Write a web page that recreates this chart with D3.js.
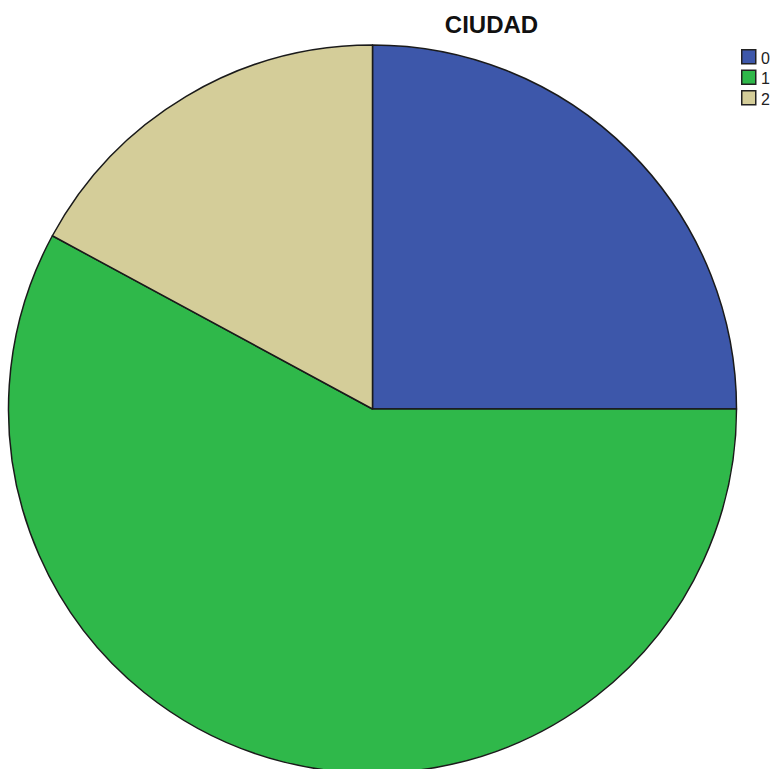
<!DOCTYPE html>
<html>
<head>
<meta charset="utf-8">
<script src="https://cdn.jsdelivr.net/npm/d3@7"></script>
<style>
  html, body { margin: 0; padding: 0; background: #fff; }
  svg { display: block; }
</style>
</head>
<body>
<svg id="chart" width="771" height="769"></svg>
<script>
// Frequency of each CIUDAD code
const categories = ["0", "1", "2"];
const counts = [19, 44, 13];
const colors = ["#3d57aa", "#2fb84a", "#d4cd99"];
const title = "CIUDAD";

const svg = d3.select("#chart");
const cx = 372.5, cy = 409, radius = 364;

const color = d3.scaleOrdinal().domain(categories).range(colors);

const pie = d3.pie().sort(null).value(d => d.count);
const arcs = pie(categories.map((c, i) => ({ cat: c, count: counts[i] })));
const arc = d3.arc().innerRadius(0).outerRadius(radius);

svg.append("g")
  .attr("transform", `translate(${cx},${cy})`)
  .selectAll("path")
  .data(arcs)
  .join("path")
  .attr("d", arc)
  .attr("fill", d => color(d.data.cat))
  .attr("stroke", "#1a1a1a")
  .attr("stroke-width", 1.5)
  .attr("stroke-linejoin", "round");

svg.append("text")
  .attr("x", 491.5)
  .attr("y", 33)
  .attr("text-anchor", "middle")
  .attr("font-family", "Liberation Sans, Arial, sans-serif")
  .attr("font-weight", "bold")
  .attr("font-size", 24)
  .attr("fill", "#111")
  .text(title);

// Legend
const legend = svg.append("g").attr("transform", "translate(741,49)");
const item = legend.selectAll("g")
  .data(categories)
  .join("g")
  .attr("transform", (d, i) => `translate(0,${i * 20.5})`);
item.append("rect")
  .attr("x", 0.75).attr("y", 0.75)
  .attr("width", 14).attr("height", 14)
  .attr("fill", d => color(d))
  .attr("stroke", "#222")
  .attr("stroke-width", 1.5);
item.append("text")
  .attr("x", 20)
  .attr("y", 14.5)
  .attr("font-family", "Liberation Sans, Arial, sans-serif")
  .attr("font-size", 16)
  .attr("fill", "#222")
  .text(d => d);
</script>
</body>
</html>
